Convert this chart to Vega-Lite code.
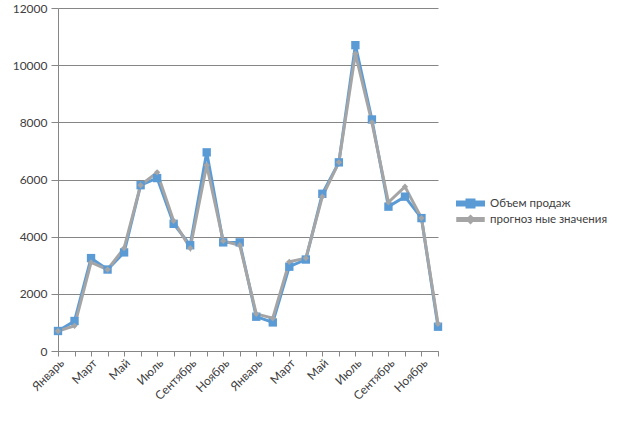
{
  "$schema": "https://vega.github.io/schema/vega-lite/v6.json",
  "width": 380,
  "height": 343,
  "autosize": "none",
  "padding": {"left": 58, "top": 8, "right": 186, "bottom": 71},
  "background": "white",
  "config": {
    "view": {"stroke": null},
    "font": "Lato",
    "axis": {"labelFont": "Lato", "labelFontSize": 12, "labelColor": "#404040"}
  },
  "data": {
    "values": [
      {"i": 1, "s": "Объем продаж", "v": 700},
      {"i": 2, "s": "Объем продаж", "v": 1050},
      {"i": 3, "s": "Объем продаж", "v": 3250},
      {"i": 4, "s": "Объем продаж", "v": 2850},
      {"i": 5, "s": "Объем продаж", "v": 3450},
      {"i": 6, "s": "Объем продаж", "v": 5800},
      {"i": 7, "s": "Объем продаж", "v": 6050},
      {"i": 8, "s": "Объем продаж", "v": 4450},
      {"i": 9, "s": "Объем продаж", "v": 3700},
      {"i": 10, "s": "Объем продаж", "v": 6950},
      {"i": 11, "s": "Объем продаж", "v": 3800},
      {"i": 12, "s": "Объем продаж", "v": 3800},
      {"i": 13, "s": "Объем продаж", "v": 1200},
      {"i": 14, "s": "Объем продаж", "v": 1000},
      {"i": 15, "s": "Объем продаж", "v": 2950},
      {"i": 16, "s": "Объем продаж", "v": 3200},
      {"i": 17, "s": "Объем продаж", "v": 5500},
      {"i": 18, "s": "Объем продаж", "v": 6600},
      {"i": 19, "s": "Объем продаж", "v": 10700},
      {"i": 20, "s": "Объем продаж", "v": 8100},
      {"i": 21, "s": "Объем продаж", "v": 5050},
      {"i": 22, "s": "Объем продаж", "v": 5400},
      {"i": 23, "s": "Объем продаж", "v": 4650},
      {"i": 24, "s": "Объем продаж", "v": 850},
      {"i": 1, "s": "прогноз ные значения", "v": 700},
      {"i": 2, "s": "прогноз ные значения", "v": 880},
      {"i": 3, "s": "прогноз ные значения", "v": 3100},
      {"i": 4, "s": "прогноз ные значения", "v": 2850},
      {"i": 5, "s": "прогноз ные значения", "v": 3600},
      {"i": 6, "s": "прогноз ные значения", "v": 5800},
      {"i": 7, "s": "прогноз ные значения", "v": 6250},
      {"i": 8, "s": "прогноз ные значения", "v": 4550},
      {"i": 9, "s": "прогноз ные значения", "v": 3600},
      {"i": 10, "s": "прогноз ные значения", "v": 6500},
      {"i": 11, "s": "прогноз ные значения", "v": 3850},
      {"i": 12, "s": "прогноз ные значения", "v": 3700},
      {"i": 13, "s": "прогноз ные значения", "v": 1300},
      {"i": 14, "s": "прогноз ные значения", "v": 1150},
      {"i": 15, "s": "прогноз ные значения", "v": 3120},
      {"i": 16, "s": "прогноз ные значения", "v": 3250},
      {"i": 17, "s": "прогноз ные значения", "v": 5400},
      {"i": 18, "s": "прогноз ные значения", "v": 6600},
      {"i": 19, "s": "прогноз ные значения", "v": 10400},
      {"i": 20, "s": "прогноз ные значения", "v": 8000},
      {"i": 21, "s": "прогноз ные значения", "v": 5200},
      {"i": 22, "s": "прогноз ные значения", "v": 5750},
      {"i": 23, "s": "прогноз ные значения", "v": 4650},
      {"i": 24, "s": "прогноз ные значения", "v": 950}
    ]
  },
  "encoding": {
    "x": {
      "field": "i",
      "type": "ordinal",
      "sort": null,
      "scale": {"type": "point", "padding": 0},
      "axis": {
        "title": null,
        "labelAngle": -45,
        "labelAlign": "right",
        "labelBaseline": "top",
        "labelPadding": 1,
        "labelDx": -3,
        "tickSize": 5,
        "tickColor": "#868686",
        "domainColor": "#868686",
        "labelExpr": "datum.value % 2 == 1 ? ['Январь','Февраль','Март','Апрель','Май','Июнь','Июль','Август','Сентябрь','Октябрь','Ноябрь','Декабрь'][(datum.value - 1) % 12] : ''",
        "labelOverlap": false,
        "grid": false
      }
    },
    "y": {
      "field": "v",
      "type": "quantitative",
      "scale": {"domain": [0, 12000], "nice": false},
      "axis": {
        "title": null,
        "format": "d",
        "values": [0, 2000, 4000, 6000, 8000, 10000, 12000],
        "grid": true,
        "gridColor": "#868686",
        "tickColor": "#868686",
        "domainColor": "#868686",
        "tickSize": 7,
        "labelPadding": 4
      }
    }
  },
  "layer": [
    {
      "mark": {"type": "line", "strokeWidth": 3},
      "encoding": {
        "strokeWidth": {
          "field": "s", "type": "nominal",
          "scale": {"domain": ["Объем продаж", "прогноз ные значения"], "range": [3, 2.5]},
          "legend": null
        },
        "color": {
          "field": "s",
          "type": "nominal",
          "sort": null,
          "scale": {"domain": ["Объем продаж", "прогноз ные значения"], "range": ["#5b9bd5", "#a5a5a5"]},
          "legend": {
            "title": null,
            "orient": "none",
            "legendX": 406,
            "legendY": 189,
            "padding": 0,
            "symbolSize": 100,
            "symbolType": "M-3,-0.3H3V0.3H-3Z",
            "labelOffset": 13,
            "rowPadding": -2,
            "labelFont": "Lato",
            "labelFontSize": 11.5,
            "labelColor": "#404040",
            "encode": {
              "symbols": {
                "update": {
                  "shape": {"signal": "datum.value === 'Объем продаж' ? 'M-2.6,-0.28H2.6V0.28H-2.6Z M-0.7,-0.7H0.7V0.7H-0.7Z' : 'M-2.6,-0.24H2.6V0.24H-2.6Z M0,-0.65L0.65,0L0,0.65L-0.65,0Z'"},
                  "fill": {"signal": "scale('color', datum.value)"},
                  "fillOpacity": {"value": 1},
                  "strokeWidth": {"value": 0}
                }
              }
            }
          }
        }
      }
    },
    {
      "transform": [{"filter": "datum.s === 'Объем продаж'"}],
      "mark": {"type": "point", "filled": true, "opacity": 1, "shape": "square", "size": 70, "color": "#5b9bd5"}
    },
    {
      "transform": [{"filter": "datum.s !== 'Объем продаж'"}],
      "mark": {"type": "point", "filled": true, "opacity": 1, "shape": "diamond", "size": 40, "color": "#a5a5a5"}
    }
  ]
}
